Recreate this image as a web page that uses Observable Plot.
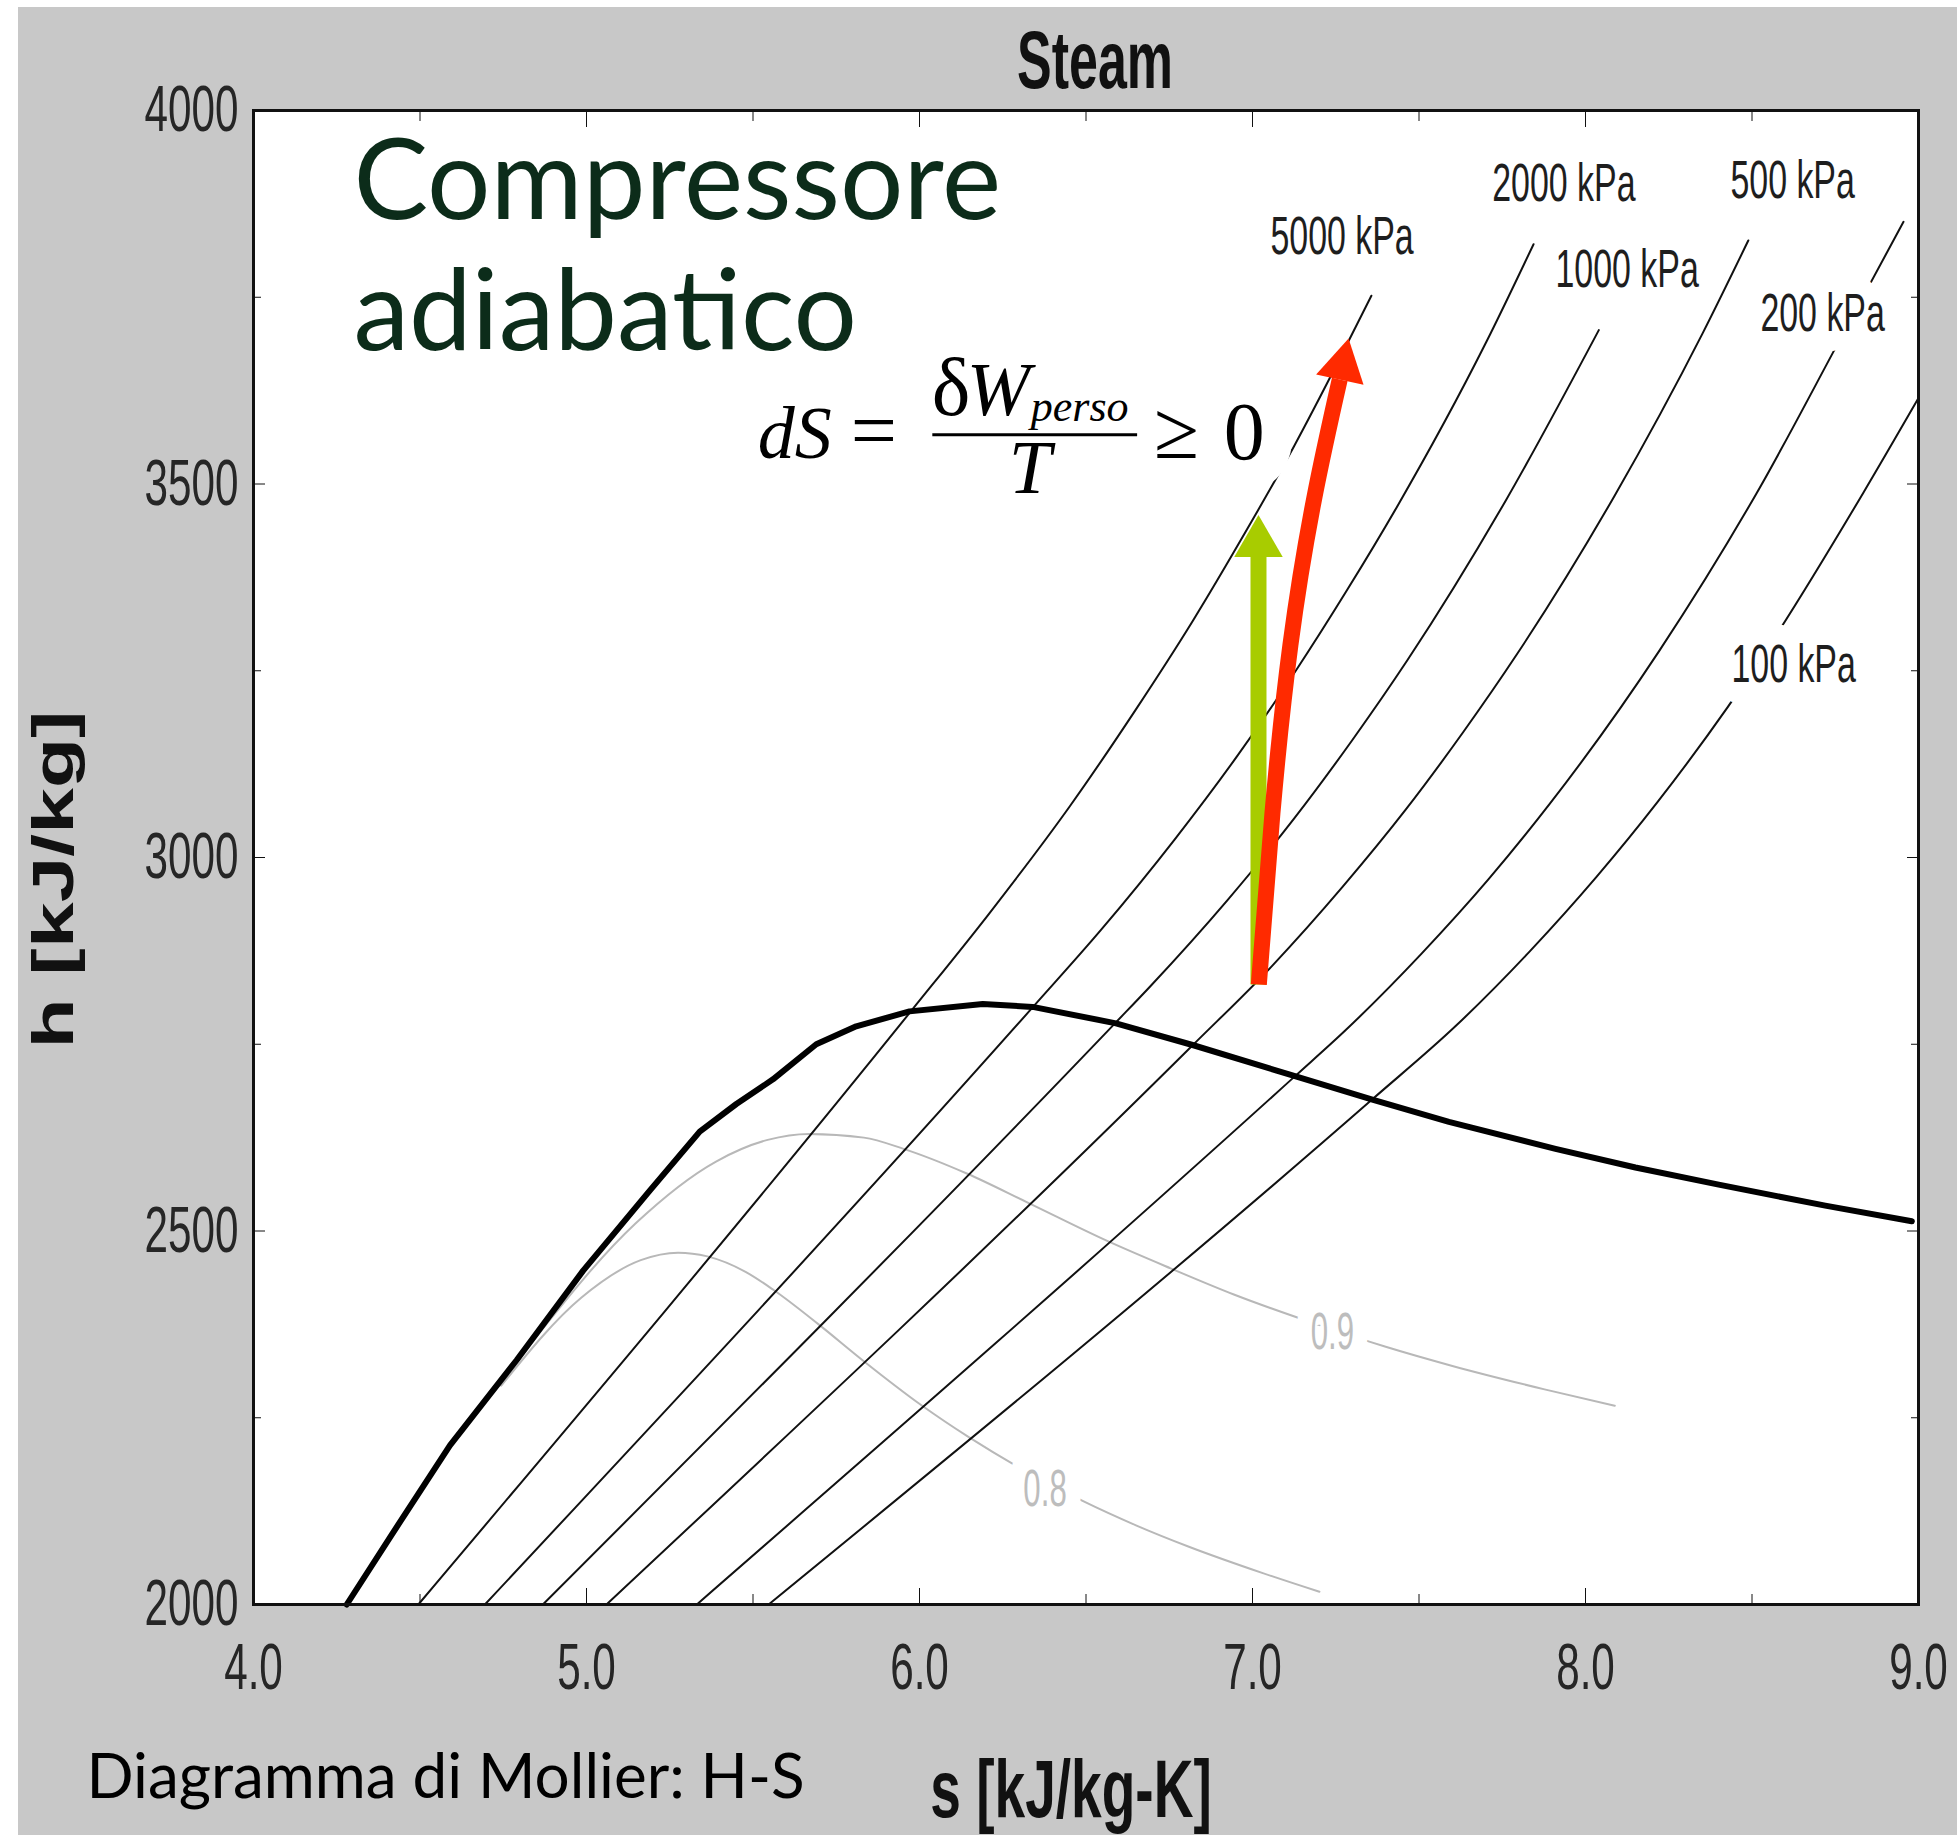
<!DOCTYPE html>
<html>
<head>
<meta charset="utf-8">
<script src="https://cdn.jsdelivr.net/npm/d3@7"></script>
<script src="https://cdn.jsdelivr.net/npm/@observablehq/plot@0.6"></script>
<style>
  html, body { margin: 0; padding: 0; background: #ffffff; }
  #bg { position: absolute; left: 18px; top: 7px; width: 1939px; height: 1828px; background: #c8c8c8; }
  #chart { position: absolute; left: 0; top: 0; }
</style>
</head>
<body>
<div id="bg"></div>
<div id="chart"></div>
<script>
// ---------- axis ticks ----------
const sTicksMajor = [4, 5, 6, 7, 8, 9];
const sTicksMinor = [4.5, 5.5, 6.5, 7.5, 8.5];
const hTicksMajor = [2000, 2500, 3000, 3500, 4000];
const hTicksMinor = [2250, 2750, 3250, 3750];

// ---------- saturation curve [s, h] ----------
const saturation = [
  [4.28, 2000], [4.41, 2090], [4.59, 2213], [4.79, 2327], [4.99, 2447], [5.19, 2554],
  [5.34, 2633], [5.45, 2670], [5.56, 2703], [5.69, 2750], [5.81, 2774], [5.97, 2794],
  [6.19, 2804], [6.34, 2800], [6.59, 2778], [6.82, 2749], [7.13, 2707], [7.36, 2676],
  [7.59, 2646], [7.91, 2610], [8.15, 2585], [8.40, 2562], [8.72, 2534], [8.98, 2513]
];

// ---------- isobars [s, h] ----------
const pressures = ["5000 kPa", "2000 kPa", "1000 kPa", "500 kPa", "200 kPa", "100 kPa"];
const isobar5000 = [[4.495, 2000], [5.974, 2794], [6.211, 2926], [6.452, 3069], [6.648, 3197], [6.821, 3317], [6.978, 3435], [7.124, 3550], [7.261, 3667], [7.357, 3752]];
const isobar2000 = [[4.695, 2000], [6.341, 2800], [6.545, 2903], [6.766, 3024], [6.956, 3137], [7.127, 3248], [7.284, 3358], [7.432, 3468], [7.702, 3690], [7.844, 3821]];
const isobar1000 = [[4.869, 2000], [6.587, 2778], [6.694, 2828], [6.925, 2943], [7.123, 3051], [7.301, 3158], [7.465, 3264], [7.762, 3479], [8.040, 3706]];
const isobar500  = [[5.060, 2000], [6.821, 2749], [7.059, 2855], [7.271, 2961], [7.460, 3064], [7.633, 3168], [7.794, 3272], [8.087, 3484], [8.352, 3702], [8.489, 3826]];
const isobar200  = [[5.331, 2000], [7.127, 2707], [7.280, 2769], [7.507, 2871], [7.709, 2971], [7.893, 3072], [8.222, 3277], [8.513, 3487], [8.777, 3704], [8.955, 3851]];
const isobar100  = [[5.547, 2000], [7.359, 2676], [7.614, 2776], [7.834, 2875], [8.033, 2974], [8.216, 3074], [8.544, 3278], [8.834, 3488], [9.000, 3615]];
const pressureLabelS = [7.269, 7.935, 8.125, 8.622, 8.712, 8.625];
const pressureLabelH = [3831, 3902, 3786, 3906, 3728, 3258];

// ---------- constant-quality lines [s, h] ----------
const qualities = ["0.9", "0.8"];
const quality09 = [[4.836, 2351], [5.147, 2510], [5.389, 2593], [5.544, 2622], [5.668, 2630], [5.833, 2625], [5.952, 2610], [6.142, 2577], [6.325, 2538], [6.567, 2486], [6.754, 2450], [6.944, 2415], [7.201, 2374], [7.400, 2345], [7.603, 2319], [7.877, 2288], [8.088, 2266]];
const quality08 = [[4.744, 2293], [4.985, 2411], [5.163, 2461], [5.275, 2471], [5.363, 2466], [5.479, 2445], [5.562, 2421], [5.697, 2375], [5.829, 2327], [6.008, 2266], [6.148, 2224], [6.293, 2185], [6.493, 2138], [6.650, 2106], [6.811, 2077], [7.031, 2042], [7.201, 2017]];
const qualityLabelS = [7.240, 6.377];
const qualityLabelH = [2365, 2154];

// ---------- annotations ----------
const headline = ["Compressore", "adiabatico"];
const headlineS = [4.30, 4.30];
const headlineH = [3855, 3679];
const formulaAt = [{s: 6.04, h: 3566}];
const fractionBar = [{s1: 6.04, s2: 6.655, h: 3566}];
const greenShaft = [[7.018, 2830], [7.018, 3405]];
const greenHead = [{s: 7.018, h: 3421, angle: 0}];
const redShaft = [[7.019, 2830], [7.060, 3060], [7.114, 3285], [7.185, 3480], [7.262, 3640]];
const redHead = [{s: 7.271, h: 3658, angle: 12}];

// ---------- tables ----------
const isobarSeries = [isobar5000, isobar2000, isobar1000, isobar500, isobar200, isobar100];
const isobarRows = isobarSeries.flatMap((pts, i) => pts.map(([s, h]) => ({s, h, p: pressures[i]})));
const qualityRows = [quality09, quality08].flatMap((pts, i) => pts.map(([s, h]) => ({s, h, q: qualities[i]})));
const pressureLabelRows = pressures.map((t, i) => ({t, s: pressureLabelS[i], h: pressureLabelH[i]}));
const qualityLabelRows = qualities.map((t, i) => ({t, s: qualityLabelS[i], h: qualityLabelH[i]}));
const headlineRows = headline.map((t, i) => ({t, s: headlineS[i], h: headlineH[i]}));

const SANS = "Liberation Sans, Arial, sans-serif";
const SERIF = "Liberation Serif, Times New Roman, serif";
const F = (text, o) => Plot.text(formulaAt, {x: "s", y: "h", text: () => text, textAnchor: "start", lineAnchor: "bottom", fontFamily: SERIF, fill: "#000", ...o});

const plot = Plot.plot({
  width: 1957, height: 1835,
  marginLeft: 253, marginRight: 39, marginTop: 110, marginBottom: 231,
  style: {background: "transparent", overflow: "visible"},
  x: {domain: [4, 9]},
  y: {domain: [2000, 4000]},
  marks: [
    Plot.frame({fill: "white"}),
    Plot.line(qualityRows, {x: "s", y: "h", z: "q", stroke: "#b8b8b8", strokeWidth: 2, curve: "monotone-x"}),
    Plot.line(isobarRows, {x: "s", y: "h", z: "p", stroke: "#111", strokeWidth: 2, curve: "monotone-x"}),
    Plot.line(saturation, {x: d => d[0], y: d => d[1], stroke: "#000", strokeWidth: 6, strokeLinejoin: "round"}),
    Plot.text(qualityLabelRows, {x: "s", y: "h", text: "t", fontFamily: SANS, fontSize: 52, fill: "#bdbdbd", stroke: "white", strokeWidth: 50, strokeLinejoin: "round", paintOrder: "stroke"}),
    Plot.text(pressureLabelRows, {x: "s", y: "h", text: "t", fontFamily: SANS, fontSize: 53, fill: "#1e1e1e", stroke: "white", strokeWidth: 40, strokeLinejoin: "round", paintOrder: "stroke"}),
    Plot.text(headlineRows, {x: "s", y: "h", text: "t", textAnchor: "start", lineAnchor: "bottom", fontFamily: "Lato, Open Sans, sans-serif", fontSize: 112, fill: "#0c2c1a"}),
    F("0", {dx: 291, dy: 24, fontSize: 82, stroke: "white", strokeWidth: 62, strokeLinejoin: "round", paintOrder: "stroke"}),
    F("dS", {dx: -175, dy: 23, fontSize: 74, fontStyle: "italic"}),
    F("=", {dx: -82, dy: 23, fontSize: 82}),
    F("δ", {dx: -1, dy: -20, fontSize: 82}),
    F("W", {dx: 34, dy: -20, fontSize: 76, fontStyle: "italic"}),
    F("perso", {dx: 98, dy: -14, fontSize: 44, fontStyle: "italic"}),
    F("T", {dx: 76, dy: 58, fontSize: 76, fontStyle: "italic"}),
    F("≥", {dx: 221, dy: 23, fontSize: 82}),
    Plot.ruleY(fractionBar, {y: "h", x1: "s1", x2: "s2", stroke: "#000", strokeWidth: 3}),
    Plot.line(greenShaft, {x: d => d[0], y: d => d[1], stroke: "#a8cc00", strokeWidth: 16, strokeLinecap: "butt"}),
    Plot.dot(greenHead, {x: "s", y: "h", rotate: "angle", symbol: "triangle", r: 18, fill: "#a8cc00", stroke: "none"}),
    Plot.line(redShaft, {x: d => d[0], y: d => d[1], stroke: "#ff2a00", strokeWidth: 16, strokeLinecap: "butt", curve: "natural"}),
    Plot.dot(redHead, {x: "s", y: "h", rotate: "angle", symbol: "triangle", r: 18, fill: "#ff2a00", stroke: "none"}),
    Plot.frame({stroke: "#111", strokeWidth: 3}),
    // axes: inward ticks on all sides
    Plot.axisX(sTicksMajor, {anchor: "bottom", tickSize: -16, tickPadding: 54, tickFormat: d3.format(".1f"), fontSize: 65, fontFamily: SANS, fill: "#262626", stroke: "#111", label: null}),
    Plot.axisX(sTicksMinor, {anchor: "bottom", tickSize: -10, fill: "none", stroke: "#111", label: null}),
    Plot.axisX(sTicksMajor, {anchor: "top", tickSize: -16, fill: "none", stroke: "#111", label: null}),
    Plot.axisX(sTicksMinor, {anchor: "top", tickSize: -10, fill: "none", stroke: "#111", label: null}),
    Plot.axisY(hTicksMajor, {anchor: "left", tickSize: -12, tickPadding: 27, tickFormat: d3.format("d"), fontSize: 65, fontFamily: SANS, fill: "#262626", stroke: "#111", label: null}),
    Plot.axisY(hTicksMinor, {anchor: "left", tickSize: -8, fill: "none", stroke: "#111", label: null}),
    Plot.axisY(hTicksMajor, {anchor: "right", tickSize: -12, fill: "none", stroke: "#111", label: null}),
    Plot.axisY(hTicksMinor, {anchor: "right", tickSize: -8, fill: "none", stroke: "#111", label: null}),
    // titles
    Plot.text(["Steam"], {frameAnchor: "top", text: d => d, dx: 9, dy: -23, textAnchor: "middle", lineAnchor: "bottom", fontFamily: SANS, fontWeight: "bold", fontSize: 82, fill: "#111"}),
    Plot.text(["s [kJ/kg-K]"], {frameAnchor: "bottom", text: d => d, dx: -15, dy: 212, textAnchor: "middle", lineAnchor: "bottom", fontFamily: SANS, fontWeight: "bold", fontSize: 81, fill: "#111"}),
    Plot.text(["h [kJ/kg]"], {frameAnchor: "left", text: d => d, rotate: -90, dx: -181, dy: 22, textAnchor: "middle", lineAnchor: "bottom", fontFamily: SANS, fontWeight: "bold", fontSize: 58, fill: "#111"}),
    Plot.text(["Diagramma di Mollier: H-S"], {frameAnchor: "bottom-left", text: d => d, dx: -167, dy: 193, textAnchor: "start", lineAnchor: "bottom", fontFamily: "Lato, Open Sans, sans-serif", fontSize: 62, fill: "#000"})
  ]
});

// Horizontal condensing of the chart's narrow lettering
const squeeze = new Map([["Steam", 0.634], ["s [kJ/kg-K]", 0.68], ["h [kJ/kg]", 1.417], ["0.9", 0.6], ["0.8", 0.6]]);
pressures.forEach(p => squeeze.set(p, 0.64));
const done = new Set();
plot.querySelectorAll('g[aria-label="x-axis tick label"] text, g[aria-label="y-axis tick label"] text').forEach(t => {
  t.setAttribute("transform", (t.getAttribute("transform") || "") + " scale(0.65,1)");
  done.add(t);
});
plot.querySelectorAll("text").forEach(t => {
  if (done.has(t)) return;
  const k = squeeze.get(t.textContent);
  if (k) t.setAttribute("transform", (t.getAttribute("transform") || "") + ` scale(${k},1)`);
});

document.getElementById("chart").appendChild(plot);
</script>
</body>
</html>
